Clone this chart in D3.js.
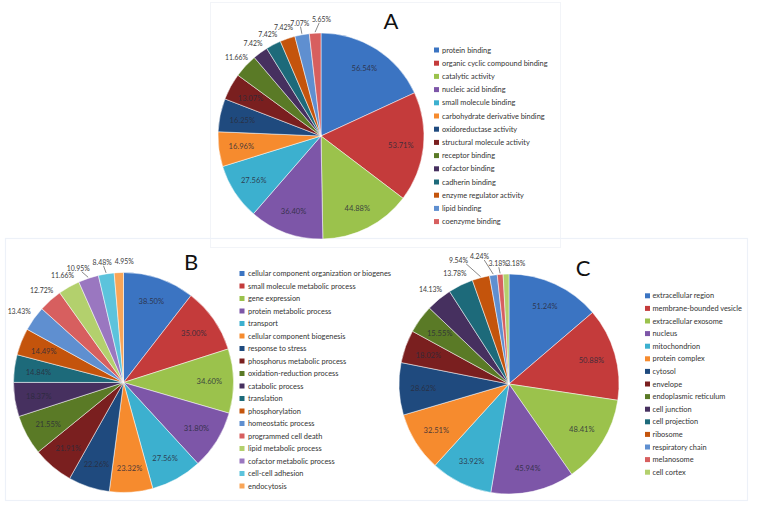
<!DOCTYPE html>
<html>
<head>
<meta charset="utf-8">
<script src="https://cdn.jsdelivr.net/npm/d3@7"></script>
<style>
  html, body { margin: 0; padding: 0; background: #fff; }
  svg { display: block; }
  text { font-family: Lato, "Open Sans", sans-serif; }
</style>
</head>
<body>
<svg id="chart" width="759" height="509"></svg>
<script>
// ---------- DATA ----------
const categoriesA = ["protein binding","organic cyclic compound binding","catalytic activity","nucleic acid binding","small molecule binding","carbohydrate derivative binding","oxidoreductase activity","structural molecule activity","receptor binding","cofactor binding","cadherin binding","enzyme regulator activity","lipid binding","coenzyme binding"];
const valuesA = [56.54,53.71,44.88,36.40,27.56,16.96,16.25,13.07,11.66,7.42,7.42,7.42,7.07,5.65];

const categoriesB = ["cellular component organization or biogenes","small molecule metabolic process","gene expression","protein metabolic process","transport","cellular component biogenesis","response to stress","phosphorus metabolic process","oxidation-reduction process","catabolic process","translation","phosphorylation","homeostatic process","programmed cell death","lipid metabolic process","cofactor metabolic process","cell-cell adhesion","endocytosis"];
const valuesB = [38.50,35.00,34.60,31.80,27.56,23.32,22.26,21.91,21.55,18.37,14.84,14.49,13.43,12.72,11.66,10.95,8.48,4.95];

const categoriesC = ["extracellular region","membrane-bounded vesicle","extracellular exosome","nucleus","mitochondrion","protein complex","cytosol","envelope","endoplasmic reticulum","cell junction","cell projection","ribosome","respiratory chain","melanosome","cell cortex"];
const valuesC = [51.24,50.88,48.41,45.94,33.92,32.51,28.62,18.02,15.55,14.13,13.78,9.54,4.24,3.18,3.18];

const palette = ["#3b74c2","#c43b3b","#9bc24c","#7d56a8","#3cb0cf","#f68b2e","#1f4a7e","#7a1f1f","#5a7a26","#46305f","#1d6a7a","#c4540c","#5f8fd0","#d75f5f","#b3d06d","#9a77c0","#5cc3dc","#f9a557"];

// ---------- LAYOUT CONFIG ----------
const pies = [
  { id:"A", cats:categoriesA, vals:valuesA, cx:321, cy:136, r:103,
    outsideFrom: 8, leader:[12,13], nudge:{13:[7,-2]},
    letter:{x:391,y:29}, legend:{x:434, y:50, step:13.2, textX:442} },
  { id:"B", cats:categoriesB, vals:valuesB, cx:123.5, cy:382.5, r:110,
    outsideFrom: 12, leader:[15,16], nudge:{12:[-4,0],15:[-6,2],16:[-2,1],17:[6,2]},
    letter:{x:191,y:270}, legend:{x:239.5, y:273.5, step:12.5, textX:248} },
  { id:"C", cats:categoriesC, vals:valuesC, cx:509, cy:384, r:110,
    outsideFrom: 9, leader:[11,12,13], nudge:{11:[-19,-5],12:[-12,-6],13:[-1,2],14:[10,2]},
    letter:{x:583,y:276}, legend:{x:645, y:295.8, step:12.6, textX:652.5} }
];

const svg = d3.select("#chart");

// faint chart-area frames
svg.append("rect").attr("x",210.5).attr("y",2.5).attr("width",350).attr("height",245)
  .attr("fill","none").attr("stroke","#f2f4f8").attr("stroke-width",1);
svg.append("rect").attr("x",5.5).attr("y",238.5).attr("width",742).attr("height",262)
  .attr("fill","none").attr("stroke","#edf1f8").attr("stroke-width",1.2);

pies.forEach(p => {
  const data = p.vals.map((v,i)=>({v, i, cat:p.cats[i]}));
  const pie = d3.pie().value(d=>d.v).sort(null).startAngle(0).endAngle(2*Math.PI);
  const arcs = pie(data);
  const arc = d3.arc().innerRadius(0).outerRadius(p.r);
  const g = svg.append("g").attr("transform",`translate(${p.cx},${p.cy})`);

  g.selectAll("path").data(arcs).join("path")
    .attr("d", arc)
    .attr("fill", d=>palette[d.index])
    .attr("stroke","#fff").attr("stroke-width",0.5);

  const inArc = d3.arc().innerRadius(p.r*0.78).outerRadius(p.r*0.78);
  const outArc = d3.arc().innerRadius(p.r*1.12).outerRadius(p.r*1.12);

  arcs.forEach(a => {
    const outside = a.index >= p.outsideFrom;
    let [x,y] = (outside ? outArc : inArc).centroid(a);
    const n = p.nudge[a.index];
    if (n) { x += n[0]; y += n[1]; }
    g.append("text")
      .attr("x", x).attr("y", y)
      .attr("text-anchor","middle").attr("dominant-baseline","central")
      .attr("font-size", outside ? 6.9 : 7.6)
      .attr("fill", outside ? "#3a3a3a" : "#2a2a3a")
      .attr("fill-opacity", outside ? 1 : 0.85)
      .text(a.data.v.toFixed(2) + "%");
    if (p.leader.includes(a.index)) {
      const mid = (a.startAngle + a.endAngle)/2;
      const ex = Math.sin(mid)*(p.r+1), ey = -Math.cos(mid)*(p.r+1);
      g.append("line")
        .attr("x1", ex).attr("y1", ey)
        .attr("x2", x + (ex - x)*0.35).attr("y2", y + 4)
        .attr("stroke","#555").attr("stroke-width",0.7);
    }
  });

  svg.append("text").attr("x",p.letter.x).attr("y",p.letter.y)
    .attr("text-anchor","middle").attr("font-size",22)
    .attr("font-family","'Liberation Sans', Arial, sans-serif")
    .attr("fill","#111").text(p.id);

  const lg = svg.append("g");
  p.cats.forEach((c,i) => {
    const yy = p.legend.y + i*p.legend.step;
    lg.append("rect").attr("x",p.legend.x).attr("y",yy-2.5).attr("width",5).attr("height",5)
      .attr("fill",palette[i]);
    lg.append("text").attr("x",p.legend.textX).attr("y",yy)
      .attr("dominant-baseline","central").attr("font-size",7.4)
      .attr("fill","#333").text(c);
  });
});
</script>
</body>
</html>
